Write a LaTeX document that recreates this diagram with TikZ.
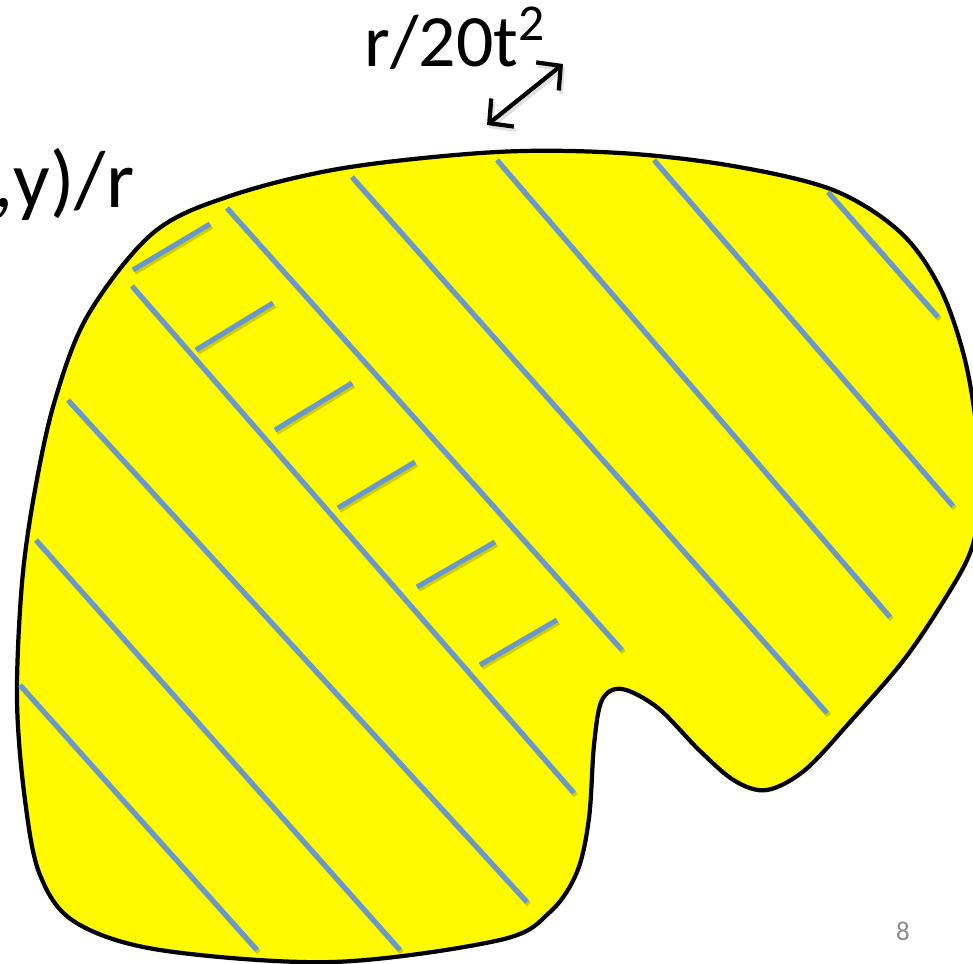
\documentclass[tikz,border=0pt]{standalone}
\usepackage{fontspec}
\setmainfont{Carlito}
\usetikzlibrary{arrows.meta}

\definecolor{hatchblue}{RGB}{104,152,206}
\definecolor{blobyellow}{RGB}{255,250,0}
\definecolor{pagegray}{RGB}{140,140,140}

\tikzset{
  blob/.style={fill=blobyellow, draw=black, line width=1.2pt},
  hatch/.style={draw=hatchblue, line width=1.45pt,
    preaction={draw=black!35!blobyellow, opacity=0.5, line width=1.45pt,
      transform canvas={xshift=0.5pt,yshift=-0.7pt}}},
  gap/.style={<->, >={Straight Barb[length=1.7mm,width=3.6mm]}, line width=1.2pt,
    preaction={draw=black!30, opacity=0.4, line width=1.2pt,
      transform canvas={xshift=0.6pt,yshift=-0.9pt}}},
  label/.style={font=\fontsize{21}{25}\selectfont, inner sep=0pt}
}

\begin{document}
\begin{tikzpicture}[x=0.01cm, y=-0.01cm]

\useasboundingbox (0,0) rectangle (973,964);

% Region outline
\draw[blob] plot[smooth cycle, tension=0.55] coordinates {
  (497,152) (620,153) (733,166) (833,190) (900,232) (940,288) (965,360)
  (978,440) (980,505) (970,553) (943,602) (903,661) (850,722) (805,770)
  (767,790) (735,781) (700,751) (658,708) (622,689) (602,700) (594,745)
  (589,818) (577,872) (550,912) (500,940) (333,962) (160,950) (75,922)
  (40,875) (25,800) (17,700) (22,583) (35,490) (55,400) (88,315)
  (153,233) (230,196) (344,168)};

% Long parallel lines
\draw[hatch] (20,685) -- (257,950);
\draw[hatch] (36,540) -- (400,950);
\draw[hatch] (68,400) -- (527,902);
\draw[hatch] (132,286) -- (574,793);
\draw[hatch] (227,208) -- (622,650);
\draw[hatch] (352,177) -- (827,713);
\draw[hatch] (497,160) -- (890,617);
\draw[hatch] (654,160) -- (953,506);
\draw[hatch] (828,192) -- (938,317);

% Short cross lines
\draw[hatch] (133,270) -- (210,224);
\draw[hatch] (196,350) -- (273,303);
\draw[hatch] (275,430) -- (352,383);
\draw[hatch] (338,508) -- (415,462);
\draw[hatch] (417,587) -- (495,542);
\draw[hatch] (480,665) -- (557,620);

% Labels
\node[label, font=\fontsize{23}{27}\selectfont, anchor=base east] (ratio) at (135,208) {,y)/r};
\node[label, anchor=base west] (width) at (364,67) {r/20t\textsuperscript{2}};
\node[font=\fontsize{7.7}{9}\selectfont, text=pagegray, inner sep=0pt, anchor=base] (page) at (903,940) {8};

% Width arrow
\coordinate (gapA) at (487,125);
\coordinate (gapB) at (563,64);
\draw[gap] (gapA) -- (gapB);

\end{tikzpicture}
\end{document}
